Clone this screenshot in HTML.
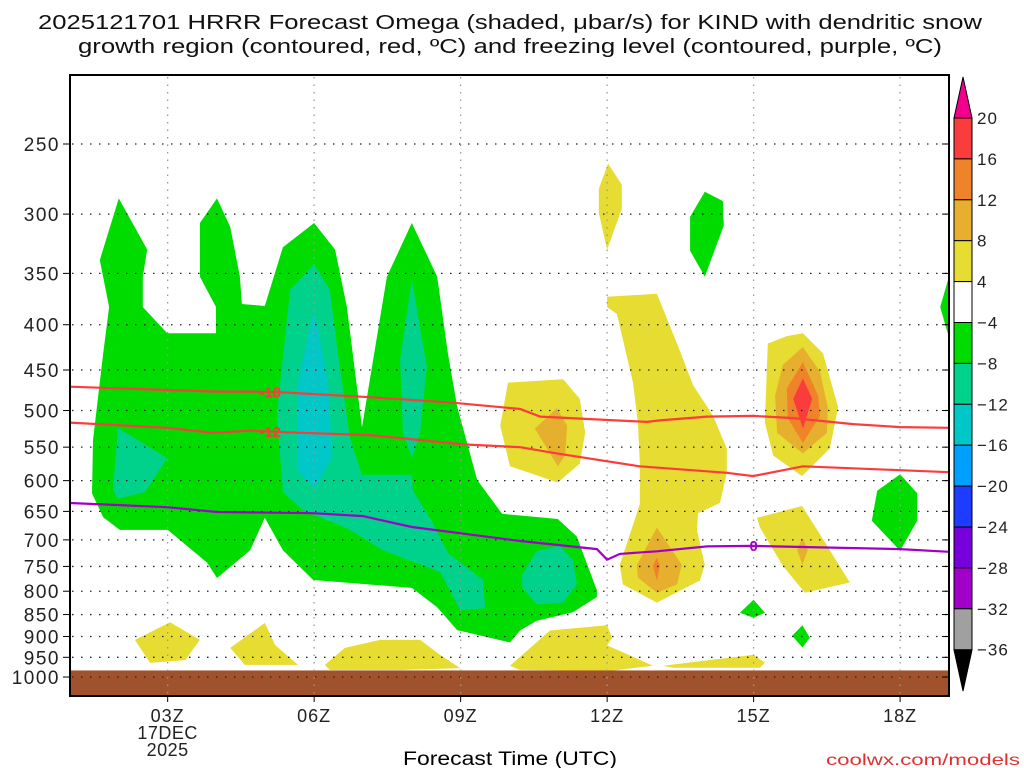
<!DOCTYPE html>
<html><head><meta charset="utf-8"><style>
html,body{margin:0;padding:0;background:#fff;}
svg{display:block;font-family:"Liberation Sans",sans-serif;}
</style></head><body>
<svg id="chart" width="1024" height="768" viewBox="0 0 1024 768" xmlns="http://www.w3.org/2000/svg">
<defs><clipPath id="plotclip"><rect x="70" y="75" width="879" height="621"/></clipPath></defs>
<g font-size="20" fill="#111" text-anchor="middle">
<text x="510" y="29" textLength="944" lengthAdjust="spacingAndGlyphs">2025121701 HRRR Forecast Omega (shaded, μbar/s) for KIND with dendritic snow</text>
<text x="510" y="53" textLength="864" lengthAdjust="spacingAndGlyphs">growth region (contoured, red, ºC) and freezing level (contoured, purple, ºC)</text>
</g>
<g id="fills" clip-path="url(#plotclip)"></g>
<g id="grid"></g>
<g id="lines" clip-path="url(#plotclip)"></g>
<g id="axes"></g>
<g id="cbar"></g>
<text x="510" y="765" font-size="19" text-anchor="middle" textLength="214" lengthAdjust="spacingAndGlyphs">Forecast Time (UTC)</text>
<text x="1020" y="765" font-size="16" fill="#e03030" text-anchor="end" textLength="194" lengthAdjust="spacingAndGlyphs">coolwx.com/models</text>
</svg>
<script>
// ---- data ----
const pressureTicks=[250,300,350,400,450,500,550,600,650,700,750,800,850,900,950,1000];
const timeTicks=[3,6,9,12,15,18];
const timeLabels=["03Z","06Z","09Z","12Z","15Z","18Z"];
const cbarLevels=[20,16,12,8,4,-4,-8,-12,-16,-20,-24,-28,-32,-36];
const cbarColors=["#fa3c3c","#f0822a","#e6af2d","#e6dc32","#ffffff","#00dc00","#00d28c","#00c8c8","#00a0ff","#1e3cff","#7800dc","#a000c8","#a0a0a0"];
const surfacePressure=983;
// omega regions: [hour, hPa]
const greenMain=[[2.0,288],[2.58,329],[2.49,353],[2.49,382],[2.99,409],[3.99,409],[3.99,382],[3.66,353],[3.66,307],[4.01,288],[4.28,310],[4.48,353],[4.52,379],[4.99,381],[5.36,327],[6.0,307],[6.43,329],[6.67,382],[6.98,522],[7.49,353],[8.0,307],[8.52,353],[8.74,431],[8.93,495],[9.34,599],[9.85,654],[10.99,663],[11.38,694],[11.61,751],[11.79,798],[11.79,812],[11.30,845],[10.56,864],[10.22,886],[10.01,914],[8.93,885],[8.52,834],[8.0,793],[5.98,777],[5.36,719],[4.99,661],[4.69,719],[4.01,773],[3.81,743],[3.0,682],[2.02,682],[1.68,660],[1.45,620],[1.47,540],[1.68,431],[1.80,382],[1.61,338]];
const greenSmall1=[[14.0,283],[14.37,290],[14.39,309],[14.0,353],[13.70,330],[13.70,302]];
const greenSmall2=[[18.0,590],[18.35,620],[18.35,666],[18.0,720],[17.42,666],[17.53,616]];
const greenSmall3=[[18.98,356],[19.1,356],[19.1,410],[18.98,410],[18.82,382]];
const greenSmall4=[[15.0,818],[15.23,846],[15.0,857],[14.72,846]];
const greenSmall5=[[16.0,874],[16.15,903],[16.0,926],[15.79,898]];
const teal1=[[1.98,523],[2.99,566],[2.54,618],[1.98,629],[1.88,615]];
const teal2=[[6.0,342],[6.32,365],[6.47,424],[6.73,536],[6.98,591],[8.0,591],[8.02,615],[8.43,670],[8.74,724],[9.46,777],[9.50,836],[8.99,840],[8.58,761],[7.41,719],[6.67,679],[5.77,648],[5.36,618],[5.24,503],[5.51,365]];
const teal3=[[8.0,356],[8.31,446],[8.17,530],[8.0,566],[7.82,530],[7.76,438]];
const teal4=[[10.56,720],[11.03,711],[11.30,738],[11.38,786],[11.10,824],[10.56,828],[10.26,792],[10.26,766]];
const cyan1=[[6.0,385],[6.28,462],[6.37,564],[6.02,612],[5.65,584],[5.65,470]];
const yellow1=[[12.02,263],[12.30,278],[12.30,296],[12.0,329],[11.83,299],[11.83,281]];
const yellow2=[[12.0,372],[13.02,369],[13.43,420],[13.76,468],[14.17,507],[14.45,552],[14.45,588],[14.31,636],[13.86,653],[13.84,683],[14.0,747],[13.90,778],[13.02,824],[12.32,786],[12.26,747],[12.67,638],[12.67,573],[12.63,516],[12.53,465],[12.20,389],[12.0,382]];
const yellow3=[[9.97,465],[11.10,461],[11.44,485],[11.55,530],[11.44,574],[10.99,603],[10.01,578],[9.81,520],[9.91,485]];
const yellow4=[[16.01,409],[16.42,431],[16.73,496],[16.56,552],[15.99,593],[15.40,562],[15.23,516],[15.29,420],[15.68,412]];
const yellow5=[[15.07,661],[15.99,641],[16.36,690],[16.97,782],[16.05,803],[15.60,749],[15.13,678]];
const yellow6=[[10.01,971],[10.83,886],[12.0,874],[12.10,903],[12.0,921],[12.94,971],[12.0,985],[10.2,981]];
const yellow7=[[13.14,971],[14.99,944],[15.23,963],[15.13,976],[13.35,976]];
const yellow8=[[3.05,867],[3.66,908],[3.36,957],[2.64,964],[2.33,908]];
const yellow9=[[4.99,869],[5.20,920],[5.67,969],[4.58,969],[4.28,927]];
const yellow10=[[6.22,969],[6.63,927],[7.35,908],[8.17,908],[8.58,944],[8.99,977],[7.76,982],[6.32,982]];
const gold1=[[13.02,678],[13.53,747],[13.43,786],[13.02,803],[12.63,772],[12.61,747]];
const gold2=[[10.97,497],[11.18,520],[11.14,562],[10.99,578],[10.52,524]];
const gold3=[[16.01,424],[16.36,452],[16.52,496],[16.50,530],[16.01,559],[15.48,530],[15.44,481],[15.60,444]];
const gold4=[[16.0,696],[16.11,718],[16.0,747],[15.89,718]];
const orange1=[[13.02,733],[13.08,749],[13.02,778],[12.94,749]];
const orange2=[[16.01,441],[16.32,481],[16.36,507],[16.01,544],[15.70,510],[15.68,472]];
const red1=[[16.01,460],[16.20,485],[16.01,524],[15.81,485]];
// contour lines
const dgzTopHours=[1.0,2.99,4.01,4.69,5.36,7.14,8.84,10.22,10.63,12.82,13.08,14.05,14.99,15.81,17.04,18.0,19.0];
const dgzTopP=[470,474,476,476,477,483,490,498,508,515,513,508,507,510,518,522,523];
const dgzBotHours=[1.0,2.99,3.93,4.69,5.36,7.14,8.17,9.05,10.22,10.97,12.67,14.45,14.99,16.01,18.0,19.0];
const dgzBotP=[516,523,530,527,529,533,540,546,550,559,578,588,593,578,584,587];
const frzHours=[1.0,2.99,4.01,5.98,7.0,8.0,10.22,11.79,12.0,12.26,13.02,14.05,14.99,18.0,19.0];
const frzP=[636,643,651,653,658,677,702,717,737,726,721,712,711,717,722];

// ---- axes ----
const X=h=>70+(h-1)*48.83;
const Y=p=>144+384.5*Math.log(p/250);
const NS="http://www.w3.org/2000/svg";
function mk(tag,attrs,parent){const e=document.createElementNS(NS,tag);for(const k in attrs)e.setAttribute(k,attrs[k]);parent.appendChild(e);return e;}
const fills=document.getElementById('fills'),grid=document.getElementById('grid'),lines=document.getElementById('lines'),axes=document.getElementById('axes'),cbar=document.getElementById('cbar');
function poly(pts,color,name){const e=mk('polygon',{points:pts.map(q=>X(q[0]).toFixed(1)+','+Y(q[1]).toFixed(1)).join(' '),fill:color},fills);

}
poly(greenMain,'#00dc00','omega-region-green-main');
[greenSmall1,greenSmall2,greenSmall3,greenSmall4,greenSmall5].forEach((g,i)=>poly(g,'#00dc00','omega-region-green-'+(i+1)));
[teal1,teal2,teal3,teal4].forEach((g,i)=>poly(g,'#00d28c','omega-region-teal-'+(i+1)));
poly(cyan1,'#00c8c8','omega-region-cyan');
[yellow1,yellow2,yellow3,yellow4,yellow5,yellow6,yellow7,yellow8,yellow9,yellow10].forEach((g,i)=>poly(g,'#e6dc32','omega-region-yellow-'+(i+1)));
[gold1,gold2,gold3,gold4].forEach((g,i)=>poly(g,'#e6af2d','omega-region-gold-'+(i+1)));
[orange1,orange2].forEach((g,i)=>poly(g,'#f0822a','omega-region-orange-'+(i+1)));
poly(red1,'#fa3c3c','omega-region-red');
// ground
const gr=mk('rect',{x:70,y:Y(surfacePressure),width:879,height:696-Y(surfacePressure),fill:'#a0522d'},fills);


// grid
pressureTicks.forEach(p=>{const l=mk('line',{x1:72,x2:947,y1:Y(p),y2:Y(p),stroke:'#222','stroke-width':1.3,'stroke-dasharray':'1.5 7.5'},grid);


const t=mk('text',{x:60,y:Y(p)+7,'font-size':19,'text-anchor':'end',fill:'#222','letter-spacing':1.5},axes);t.textContent=p;


mk('line',{x1:63,x2:70,y1:Y(p),y2:Y(p),stroke:'#000'},axes);
mk('line',{x1:942,x2:949,y1:Y(p),y2:Y(p),stroke:'#000'},axes);});
timeTicks.forEach((h,i)=>{const l=mk('line',{x1:X(h),x2:X(h),y1:77,y2:694,stroke:'#999','stroke-width':1.3,'stroke-dasharray':'1.5 6'},grid);


mk('line',{x1:X(h),x2:X(h),y1:696,y2:702,stroke:'#000'},axes);
const t=mk('text',{x:X(h),y:722,'font-size':18,'text-anchor':'middle',fill:'#222','letter-spacing':1},axes);t.textContent=timeLabels[i];

});
[['17DEC',739],['2025',756]].forEach(a=>{const t=mk('text',{x:X(3),y:a[1],'font-size':18,'text-anchor':'middle',fill:'#222','letter-spacing':0.5},axes);t.textContent=a[0];

});
// contour lines
function cline(hs,ps,color,name){const d=hs.map((h,i)=>(i?'L':'M')+X(h).toFixed(1)+','+Y(ps[i]).toFixed(1)).join('');
const e=mk('path',{d:d,fill:'none',stroke:color,'stroke-width':2.2},lines);

}
cline(dgzTopHours,dgzTopP,'#fa3c3c','dgz-contour-minus18');
cline(dgzBotHours,dgzBotP,'#fa3c3c','dgz-contour-minus12');
cline(frzHours,frzP,'#a000c8','freezing-level-contour');
function clabel(txt,h,p,color,name){const t=mk('text',{x:X(h),y:Y(p)+5,'font-size':15,'font-weight':'bold','text-anchor':'middle',fill:color},lines);t.textContent=txt;

}
clabel('-18',5.1,477,'#fa3c3c','contour-label-minus18');
clabel('-12',5.1,529,'#fa3c3c','contour-label-minus12');
clabel('0',15.0,711,'#a000c8','contour-label-zero');
// frame
const fr=mk('rect',{x:70,y:75,width:879,height:621,fill:'none',stroke:'#000','stroke-width':2},axes);


// colorbar
const cy=i=>118+i*40.9;
for(let i=0;i<cbarColors.length;i++){const r=mk('rect',{x:954,y:cy(i),width:18,height:40.9,fill:cbarColors[i],stroke:'#000','stroke-width':1},cbar);

}
const tt=mk('polygon',{points:'954,118 972,118 963,77',fill:'#f0008c',stroke:'#000'},cbar);


const tb=mk('polygon',{points:'954,650 972,650 963,691',fill:'#000',stroke:'#000'},cbar);


cbarLevels.forEach((v,i)=>{const t=mk('text',{x:977,y:cy(i)+6,'font-size':17,fill:'#222','letter-spacing':1},cbar);t.textContent=v<0?'\u2212'+(-v):String(v);

});
</script>
</body></html>
